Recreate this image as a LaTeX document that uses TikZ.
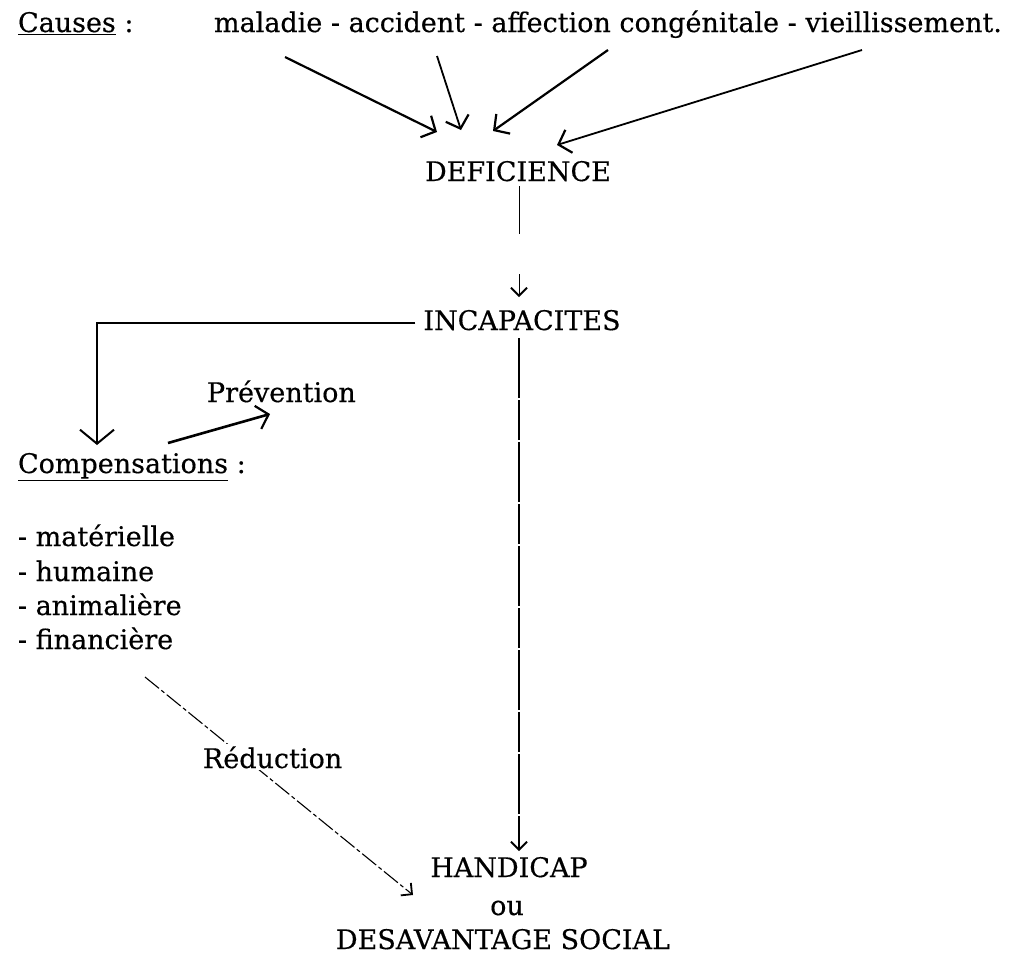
\documentclass[tikz,border=0pt]{standalone}
\usepackage{fontspec}
\setmainfont{DejaVu Serif}[FakeBold=0.4]
\usetikzlibrary{arrows.meta}
\tikzset{
  lbl/.style={inner sep=0pt, outer sep=0pt, font=\fontsize{27}{32}\selectfont},
  caps/.style={inner sep=0pt, outer sep=0pt, font=\fontsize{27}{32}\selectfont},
  headA/.style={-{Straight Barb[length=11pt,width=24pt,line width=2.2pt]}},
  thick arrow/.style={line width=2.2pt, headA},
  thin arrow/.style={line width=1.1pt, -{Straight Barb[length=8pt,width=16pt,line width=1.8pt]}},
}
\begin{document}
\begin{tikzpicture}[x=1pt,y=-1pt]
\useasboundingbox (0,0) rectangle (1028,954);
% texts
\node[lbl, anchor=base west] (causes) at (18,32) {\underline{Causes} :};
\node[lbl, anchor=base west] (list) at (214,32) {maladie - accident - affection congénitale - vieillissement.};
\node[caps, anchor=base] (def) at (518,181) {DEFICIENCE};
\node[caps, anchor=base] (inc) at (522,330) {INCAPACITES};
\node[lbl, anchor=base west] (prev) at (207,402) {Prévention};
\node[lbl, anchor=base west] (comp) at (18,473) {\underline{Compensations} :};
\node[lbl, anchor=base west] (m1) at (18,546) {- matérielle};
\node[lbl, anchor=base west] (m2) at (18,581) {- humaine};
\node[lbl, anchor=base west] (m3) at (18,615) {- animalière};
\node[lbl, anchor=base west] (m4) at (18,649) {- financière};
\node[caps, anchor=base] (hand) at (509,877) {HANDICAP};
\node[lbl, anchor=base] (ou) at (507,915) {ou};
\node[caps, anchor=base] (desav) at (503,949) {DESAVANTAGE SOCIAL};
% free ends
\coordinate (c1) at (285,57);
\coordinate (c2) at (437,56);
\coordinate (c3) at (608,50);
\coordinate (c4) at (862,50);
\coordinate (d1) at (437,132);
\coordinate (d2) at (461,130);
\coordinate (d3) at (493,131);
\coordinate (d4) at (557,145);
\draw[thick arrow] (c1) -- (d1);
\draw[thick arrow, line width=1.8pt] (c2) -- (d2);
\draw[thick arrow] (c3) -- (d3);
\draw[thick arrow, line width=1.8pt] (c4) -- (d4);
% DEFICIENCE -> INCAPACITES
\draw[thin arrow, line width=0.8pt, dash pattern=on 48pt off 40pt on 40pt] (def.south -| 519,0) ++(0,5) -- (519,297);
% INCAPACITES -> Compensations
\coordinate (cl) at (97,445);
\draw[line width=2.2pt, -{Straight Barb[length=14pt,width=34pt,line width=2pt]}] (inc.west) ++(-8,3) -| (cl);
% Compensations -> Prevention
\coordinate (ps) at (168,443);
\coordinate (pe) at (270,414);
\draw[line width=2.6pt, headA] (ps) -- (pe);
% INCAPACITES -> HANDICAP
\draw[thin arrow, dash pattern=on 60pt off 2pt on 40pt off 2pt] (inc.south -| 519,0) ++(0,8) -- (519,851);
% financiere -> HANDICAP (Reduction)
\coordinate (rs) at (145,677);
\coordinate (re) at (413,895);
\draw[thin arrow, dash pattern=on 18pt off 3pt on 4pt off 3pt] (rs) -- (re);
\node[lbl, anchor=base west, fill=white, inner sep=2pt] (red) at (201,768) {Réduction};
\end{tikzpicture}
\end{document}
